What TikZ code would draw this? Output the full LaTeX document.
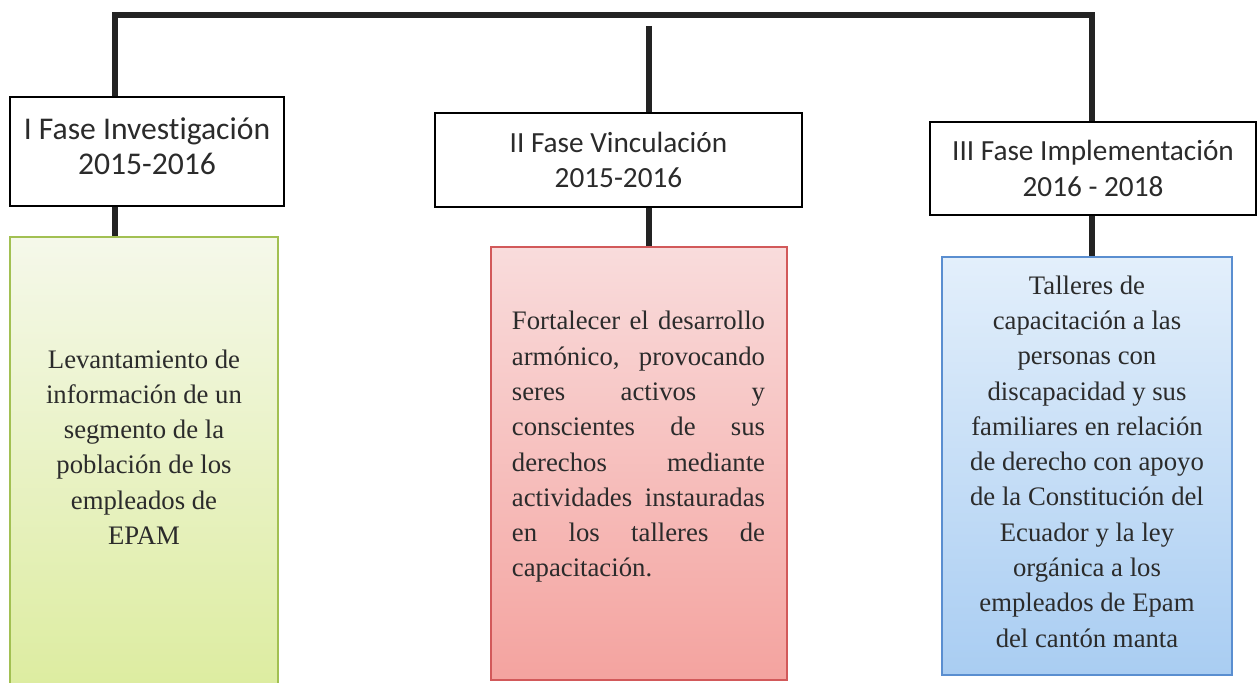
\documentclass[tikz,border=0pt]{standalone}
\usepackage{fontspec}
\setmainfont{Liberation Serif}
\newfontfamily\headfont[Ligatures={NoCommon}]{Carlito}
\usepackage{tikz}
\usetikzlibrary{positioning}

\definecolor{linkgray}{HTML}{232323}
\definecolor{textgray}{HTML}{2B2B2B}
\definecolor{greenline}{HTML}{A2C052}
\definecolor{greentop}{HTML}{F5F8EA}
\definecolor{greenbot}{HTML}{DCEC9E}
\definecolor{redline}{HTML}{D2595A}
\definecolor{redtop}{HTML}{F9DCDC}
\definecolor{redbot}{HTML}{F4A39F}
\definecolor{blueline}{HTML}{5A8ED0}
\definecolor{bluetop}{HTML}{E3EFFB}
\definecolor{bluebot}{HTML}{A9CDF2}

\begin{document}
\begin{tikzpicture}[x=0.025cm,y=-0.025cm,
				phase_head/.style ={rectangle, draw=black, line width=1pt, fill=white,
					text=textgray, align=center,
					font=\headfont\fontsize{20.8}{25}\selectfont},
				phase_box/.style ={rectangle, line width=1pt, inner sep=0pt},
				phase_text/.style ={text=textgray,
					font=\fontsize{19}{25.1}\selectfont},
				line/.style ={draw=linkgray, line width=3.6pt}]
				\useasboundingbox (0,0) rectangle (1258,683);
				\clip (0,0) rectangle (1258,683);
				% phase headers
				\node [phase_head, minimum width=6.85cm, minimum height=2.725cm] (investigacion) at (147,151.5) {};
				\node [text=textgray, align=center, font=\headfont\fontsize{22.5}{25}\selectfont]
					(investigacionTitle) at (147,146) {I Fase Investigación\\2015-2016};
				\node [phase_head, minimum width=9.175cm, minimum height=2.35cm] (vinculacion) at (618.5,160)
					{II Fase Vinculación\\2015-2016};
				\node [phase_head, minimum width=8.15cm, minimum height=2.325cm] (implementacion) at (1093,168.5)
					{III Fase Implementación\\2016 - 2018};
				% coloured boxes
				\node [phase_box, draw=greenline, top color=greentop, bottom color=greenbot,
					minimum width=6.7cm, minimum height=11.575cm] (investigacionBox) at (144,468.5) {};
				\node [phase_box, draw=redline, top color=redtop, bottom color=redbot,
					minimum width=7.4cm, minimum height=10.825cm] (vinculacionBox) at (639,463.5) {};
				\node [phase_box, draw=blueline, top color=bluetop, bottom color=bluebot,
					minimum width=7.25cm, minimum height=10.45cm] (implementacionBox) at (1087,466) {};
				% box texts
				\node [phase_text, align=center] (investigacionText) at (144,447)
					{Levantamiento de\\información de un\\segmento de la\\población de los\\empleados de\\EPAM};
				\node [phase_text, text width=6.325cm, align=justify] (vinculacionText) at (638.5,447)
					{\tolerance=10000\hyphenpenalty=10000
					Fortalecer el desarrollo\linebreak
					armónico, provocando\linebreak
					seres activos y\linebreak
					conscientes de sus\linebreak
					derechos mediante\linebreak
					actividades instauradas\linebreak
					en los talleres de\linebreak
					capacitación.};
				\node [phase_text, align=center] (implementacionText) at (1087,461.5)
					{Talleres de\\capacitación a las\\personas con\\discapacidad y sus\\familiares en relación\\de derecho con apoyo\\de la Constitución del\\Ecuador y la ley\\orgánica a los\\empleados de Epam\\del cantón manta};
				% top bar ends
				\coordinate (barLeft) at (115,15);
				\coordinate (barRight) at (1092,15);
				\coordinate (barMid) at (649,26);
				% connecting nodes with paths
				\begin{scope}[every path/.style=line]
					\path (investigacion.north -| barLeft) |- (barRight) -- (implementacion.north -| barRight);
					\path (barMid) -- (vinculacion.north -| barMid);
					\path (investigacion.south -| barLeft) -- (investigacionBox.north -| barLeft);
					\path (vinculacion.south -| barMid) -- (vinculacionBox.north -| barMid);
					\path (implementacion.south -| barRight) -- (implementacionBox.north -| barRight);
				\end{scope}
			\end{tikzpicture}
\end{document}
